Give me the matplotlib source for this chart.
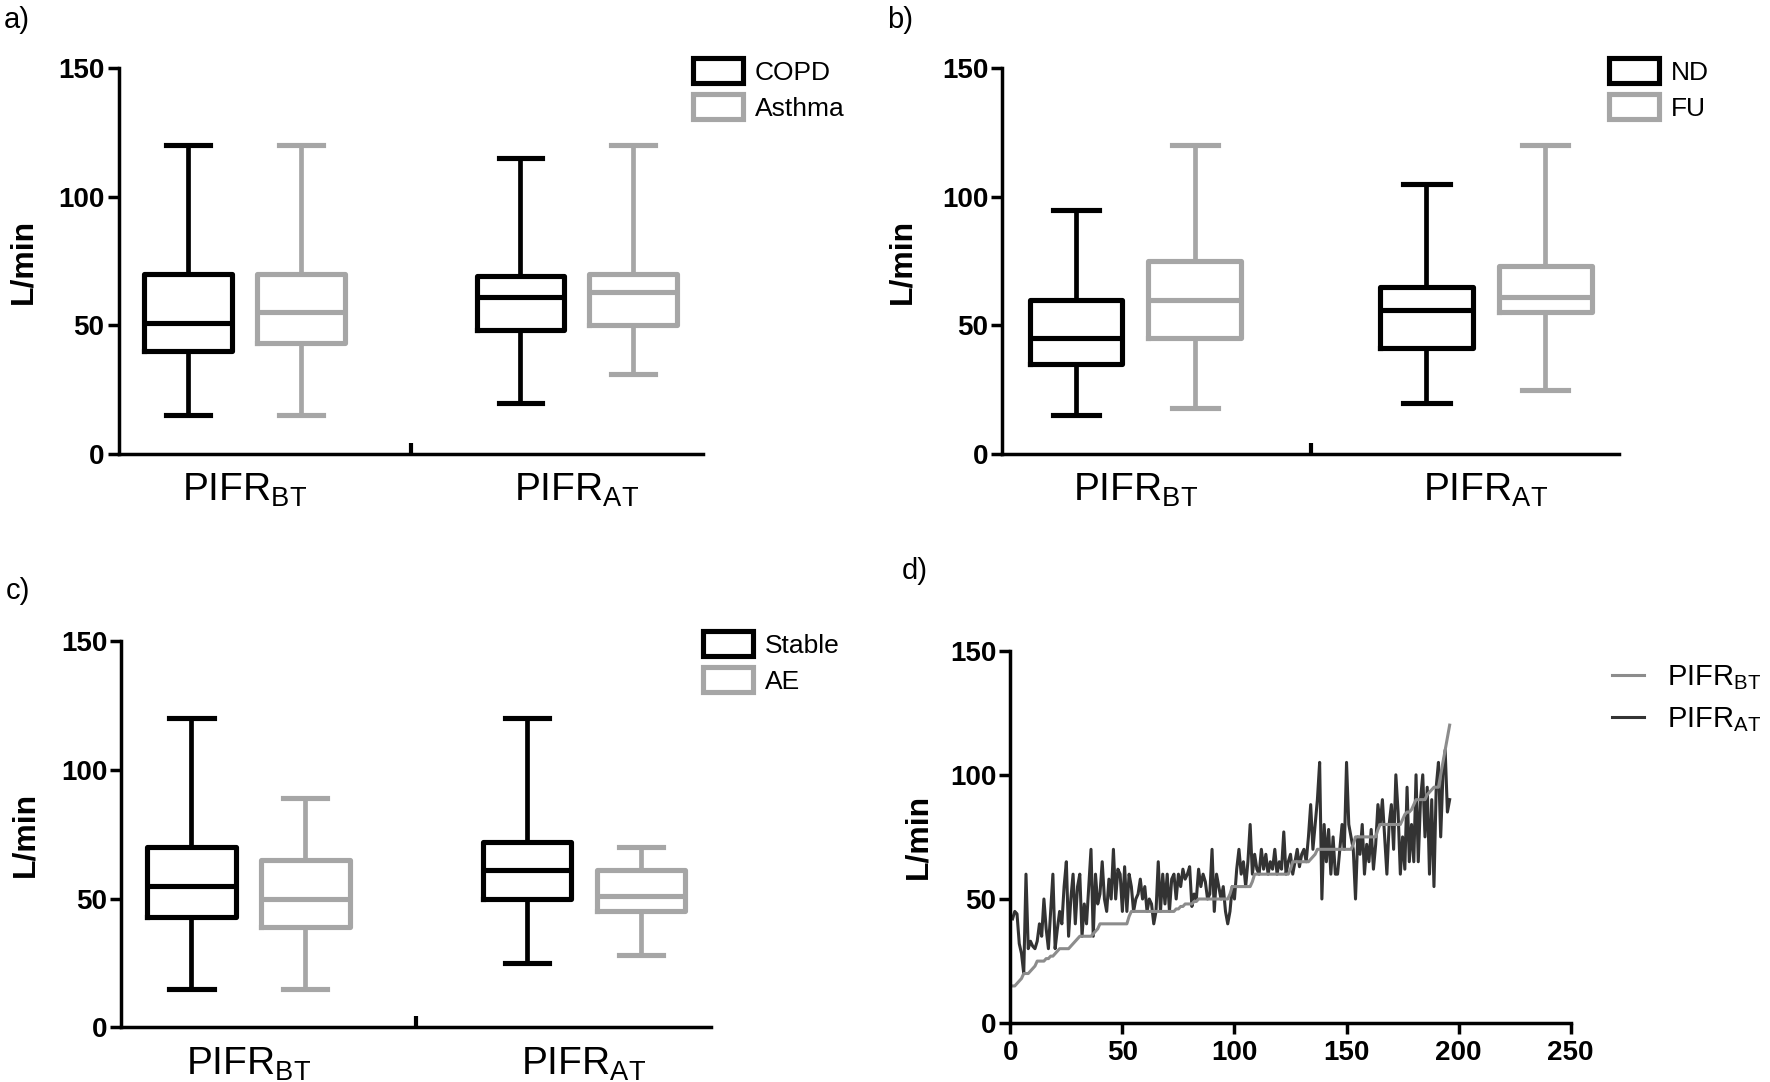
import matplotlib
matplotlib.use('Agg')
import matplotlib.pyplot as plt
from matplotlib.patches import Patch
from matplotlib.lines import Line2D

plt.rcParams['font.family'] = ['Liberation Sans', 'DejaVu Sans']
plt.rcParams['mathtext.fontset'] = 'custom'
plt.rcParams['mathtext.rm'] = 'Liberation Sans'
plt.rcParams['mathtext.it'] = 'Liberation Sans:italic'
plt.rcParams['mathtext.bf'] = 'Liberation Sans:bold'

group_labels = [r'PIFR$_{\mathrm{BT}}$', r'PIFR$_{\mathrm{AT}}$']

# box values per group: [whisker low, q1, median, q3, whisker high]
copd = [[15, 40, 51, 70, 120], [20, 48, 61, 69, 115]]
asthma = [[15, 43, 55, 70, 120], [31, 50, 63, 70, 120]]
nd = [[15, 35, 45, 60, 95], [20, 41, 56, 65, 105]]
fu = [[18, 45, 60, 75, 120], [25, 55, 61, 73, 120]]
stable = [[15, 43, 55, 70, 120], [25, 50, 61, 72, 120]]
ae = [[15, 39, 50, 65, 89], [28, 45, 51, 61, 70]]

# panel d: PIFR per patient (sorted by PIFR before training)
pifr_bt = [15, 15, 16, 17, 18, 20, 20, 20, 21, 22,
           23, 25, 25, 25, 25, 26, 26, 27, 27, 28,
           29, 30, 30, 30, 30, 30, 31, 32, 33, 34,
           35, 35, 35, 35, 35, 35, 36, 37, 38, 40,
           40, 40, 40, 40, 40, 40, 40, 40, 40, 40,
           40, 40, 43, 45, 45, 45, 45, 45, 45, 45,
           45, 45, 45, 45, 45, 45, 45, 45, 45, 45,
           45, 45, 45, 46, 46, 47, 47, 48, 48, 48,
           48, 49, 49, 50, 50, 50, 50, 50, 50, 50,
           50, 50, 50, 50, 50, 50, 50, 52, 55, 55,
           55, 55, 55, 55, 55, 55, 55, 57, 60, 60,
           60, 60, 60, 60, 60, 60, 60, 60, 60, 60,
           60, 60, 60, 60, 62, 65, 65, 65, 65, 65,
           65, 65, 65, 66, 67, 68, 70, 70, 70, 70,
           70, 70, 70, 70, 70, 70, 70, 70, 70, 70,
           70, 70, 72, 75, 75, 75, 75, 75, 75, 75,
           75, 75, 75, 78, 80, 80, 80, 80, 80, 80,
           80, 80, 80, 80, 82, 84, 85, 85, 86, 88,
           90, 90, 90, 90, 90, 92, 93, 94, 95, 95,
           95, 100, 105, 110, 115, 120]
pifr_at = [42, 45, 44, 32, 28, 20, 60, 30, 33, 31,
           30, 33, 40, 35, 50, 38, 30, 45, 60, 30,
           38, 45, 40, 55, 65, 35, 50, 60, 40, 55,
           60, 35, 48, 40, 55, 70, 35, 60, 48, 52,
           65, 50, 45, 58, 50, 70, 50, 62, 60, 45,
           63, 45, 60, 55, 45, 50, 52, 58, 50, 55,
           45, 50, 48, 40, 45, 65, 45, 60, 48, 60,
           45, 58, 60, 50, 60, 55, 62, 58, 60, 63,
           47, 52, 50, 62, 55, 60, 57, 50, 52, 70,
           45, 60, 55, 50, 55, 45, 40, 45, 55, 50,
           62, 70, 60, 65, 55, 65, 80, 60, 68, 62,
           60, 70, 62, 68, 60, 65, 62, 70, 60, 65,
           62, 77, 60, 65, 68, 60, 65, 70, 63, 68,
           70, 65, 75, 88, 70, 80, 90, 105, 50, 80,
           65, 78, 60, 75, 60, 60, 70, 80, 70, 105,
           80, 75, 70, 50, 75, 68, 80, 60, 72, 65,
           78, 62, 72, 88, 80, 90, 75, 60, 80, 88,
           70, 100, 85, 60, 75, 62, 95, 65, 80, 65,
           100, 65, 90, 100, 75, 95, 60, 90, 55, 95,
           105, 75, 100, 110, 85, 90]
patients = list(range(1, len(pifr_bt) + 1))

DARK = '#000000'
LIGHT = '#a6a6a6'
W, H = 1770, 1082

fig = plt.figure(figsize=(17.7, 10.82), dpi=100)


def px_axes(x0, x1, ytop, ybot):
    return fig.add_axes([x0 / W, 1 - ybot / H, (x1 - x0) / W, (ybot - ytop) / H])


def style_axes(ax):
    for s in ['top', 'right']:
        ax.spines[s].set_visible(False)
    for s in ['left', 'bottom']:
        ax.spines[s].set_linewidth(2.5)
    ax.set_ylim(0, 150)
    ax.set_yticks([0, 50, 100, 150])
    ax.tick_params(axis='y', direction='out', length=8, width=2.5, pad=2, labelsize=20)
    for t in ax.get_yticklabels():
        t.set_fontweight('bold')
    ax.set_ylabel('L/min', fontsize=23, fontweight='bold')
    ax.yaxis.set_label_coords(-0.138, 0.5)


def box_panel(ax, dark, light, names, leg_xy):
    centers = [0.2155, 0.7845]
    off = 0.0965
    for vals, col, sh in [(dark, DARK, -off), (light, LIGHT, off)]:
        stats = [dict(whislo=v[0], q1=v[1], med=v[2], q3=v[3], whishi=v[4], fliers=[])
                 for v in vals]
        ax.bxp(stats, positions=[c + sh for c in centers], widths=0.15, showfliers=False,
               boxprops=dict(color=col, lw=3.7),
               whiskerprops=dict(color=col, lw=3.4),
               capprops=dict(color=col, lw=3.7),
               medianprops=dict(color=col, lw=3.7),
               manage_ticks=False)
    ax.set_xlim(0, 1)
    style_axes(ax)
    ax.set_xticks(centers)
    ax.set_xticklabels(group_labels, fontsize=28)
    ax.tick_params(axis='x', which='major', length=0, pad=13)
    ax.set_xticks([0.5], minor=True)
    ax.tick_params(axis='x', which='minor', direction='in', length=8, width=3)
    handles = [Patch(facecolor='white', edgecolor=DARK, lw=3.7),
               Patch(facecolor='white', edgecolor=LIGHT, lw=3.7)]
    fig.legend(handles, names, loc='upper left', bbox_to_anchor=(leg_xy[0] / W, 1 - leg_xy[1] / H),
               frameon=False, fontsize=19, handlelength=1.9, handleheight=1.1,
               handletextpad=0.45, labelspacing=0.35, borderpad=0, borderaxespad=0)


ax_a = px_axes(118.5, 702.7, 68, 454)
box_panel(ax_a, copd, asthma, ['COPD', 'Asthma'], (693, 58))

ax_b = px_axes(1002.4, 1618.7, 68, 454)
box_panel(ax_b, nd, fu, ['ND', 'FU'], (1609, 58))

ax_c = px_axes(121.3, 711.1, 641, 1027.4)
box_panel(ax_c, stable, ae, ['Stable', 'AE'], (703, 631))

# panel d
ax_d = px_axes(1010.3, 1570.7, 650.6, 1023.2)
ax_d.plot(patients, pifr_at, color='#333333', lw=2.2, label=r'PIFR$_{\mathrm{AT}}$')
ax_d.plot(patients, pifr_bt, color='#8c8c8c', lw=2.2, label=r'PIFR$_{\mathrm{BT}}$')
style_axes(ax_d)
ax_d.set_xlim(0, 250)
ax_d.set_xticks([0, 50, 100, 150, 200, 250])
ax_d.tick_params(axis='x', direction='out', length=8, width=2.5, pad=4, labelsize=20)
for t in ax_d.get_xticklabels():
    t.set_fontweight('bold')
leg_handles = [Line2D([], [], color='#8c8c8c', lw=2.2), Line2D([], [], color='#333333', lw=2.2)]
fig.legend(leg_handles, group_labels, loc='upper left', bbox_to_anchor=(1612 / W, 1 - 663 / H),
           frameon=False, fontsize=21, handlelength=1.1, handletextpad=0.8, labelspacing=0.45,
           borderpad=0, borderaxespad=0)

for lab, x, y in [('a)', 4, 6), ('b)', 887, 6), ('c)', 6, 577), ('d)', 902, 557)]:
    fig.text(x / W, 1 - y / H, lab, fontsize=21, va='top', ha='left')

plt.savefig('out.png', dpi=100)
